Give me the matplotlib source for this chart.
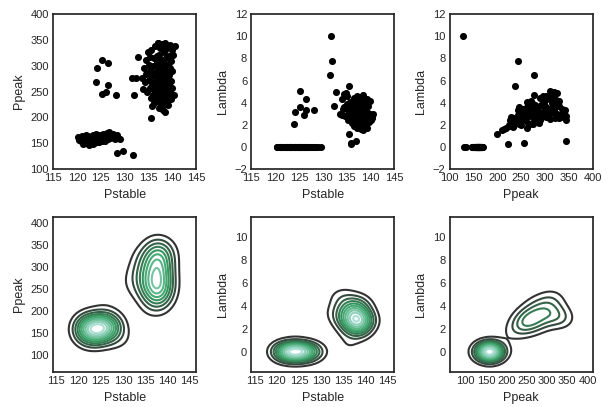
import numpy as np
import matplotlib
matplotlib.use("Agg")
from matplotlib import pyplot as plt
from matplotlib.colors import LinearSegmentedColormap
from matplotlib.ticker import MultipleLocator

plt.rcParams['font.family'] = ['Liberation Sans', 'DejaVu Sans']
plt.rcParams['axes.edgecolor'] = '#262626'
plt.rcParams['axes.linewidth'] = 1.25
plt.rcParams['xtick.color'] = '#262626'
plt.rcParams['ytick.color'] = '#262626'
plt.rcParams['axes.labelcolor'] = '#262626'

# lower cluster (Lambda = 0)
low_pstable = [120.3, 120.6, 120.9, 121.0, 121.2, 121.4, 121.5, 121.7, 121.9, 122.0,
               122.2, 122.3, 122.5, 122.6, 122.8, 122.9, 123.0, 123.2, 123.3, 123.5,
               123.6, 123.8, 123.9, 124.0, 124.1, 124.3, 124.4, 124.6, 124.7, 124.9,
               125.0, 125.1, 125.3, 125.4, 125.6, 125.7, 125.9, 126.0, 126.2, 126.3,
               126.5, 126.6, 126.8, 126.9, 127.1, 127.3, 127.5, 127.7, 128.0, 128.3,
               128.6, 129.0, 121.1, 122.1, 123.1, 124.2, 125.2, 126.1, 122.4, 123.4,
               124.8, 125.8, 128.3, 129.7,
               120.4, 121.6, 122.4, 123.0, 123.7, 124.2, 124.9, 125.5, 126.2, 127.0,
               128.1]
low_ppeak = [162, 158, 155, 164, 148, 160, 152, 157, 166, 150,
             161, 155, 158, 147, 163, 152, 159, 156, 166, 150,
             161, 154, 158, 168, 152, 163, 157, 160, 153, 166,
             158, 162, 155, 168, 160, 164, 157, 166, 161, 169,
             163, 158, 171, 165, 167, 162, 168, 160, 158, 166,
             160, 158, 157, 153, 162, 155, 159, 163, 165, 149,
             161, 154, 131, 135,
             157, 163, 152, 154, 160, 161, 156, 157, 165, 161,
             162]
low_lambda = [0.0] * len(low_pstable)

# points between the clusters
mid_pstable = [124.2, 125.3, 126.4, 124.0, 126.5, 125.3, 126.1, 128.2,
               131.8, 131.9, 131.5, 132.3, 132.8,
               135.5, 135.8, 135.9, 137.0]
mid_ppeak = [296, 311, 305, 269, 262, 245, 249, 243,
             128, 243, 277, 277, 318,
             199, 222, 255, 345]
mid_lambda = [3.2, 5.1, 4.3, 2.1, 3.3, 3.6, 2.9, 3.3,
              10.0, 7.8, 6.5, 3.7, 5.0,
              1.2, 0.3, 0.4, 0.5]

# upper cluster
up_pstable = [133.6, 133.9, 134.1, 134.2, 134.4, 134.5, 134.7, 134.8, 135.0, 135.1,
              135.2, 135.3, 135.4, 135.5, 135.6, 135.7, 135.8,
              136.0, 136.0, 136.1, 136.2, 136.3, 136.4, 136.5, 136.5, 136.6, 136.7,
              136.8, 136.9, 137.0, 137.0, 137.1, 137.2, 137.2, 137.3, 137.4, 137.4,
              137.5, 137.6, 137.6, 137.7, 137.8, 137.8,
              138.0, 138.0, 138.1, 138.1, 138.2, 138.3, 138.3, 138.4, 138.5, 138.5,
              138.6, 138.6, 138.7, 138.8, 138.8, 138.9, 139.0, 139.0, 139.1, 139.2,
              139.2, 139.3, 139.4, 139.4, 139.5,
              139.6, 139.7, 139.8, 139.9, 140.0, 140.0, 140.2, 140.3, 140.5,
              137.3, 137.9, 138.2, 138.6, 137.1, 138.9, 137.5, 138.4, 137.7, 138.0,
              136.8, 139.1, 137.4, 138.7, 136.9, 138.3, 137.9, 139.3, 136.7, 138.5]
up_ppeak = [276, 255, 296, 268, 312, 285, 250, 326, 302, 272,
            258, 318, 290, 238, 330, 262, 280,
            244, 300, 228, 315, 268, 338, 254, 289, 232, 308,
            276, 344, 240, 262, 296, 322, 218, 284, 250, 334,
            270, 305, 226, 290, 342, 258,
            214, 312, 246, 280, 326, 236, 298, 266, 344, 210,
            254, 316, 288, 232, 336, 272, 302, 244, 224, 320,
            262, 282, 340, 250, 296,
            236, 310, 270, 330, 258, 290, 322, 244, 338,
            310, 300, 260, 240, 276, 318, 236, 330, 248, 284,
            320, 274, 292, 302, 264, 226, 338, 256, 246, 276]
up_lambda = [3.0, 2.9, 4.3, 3.4, 4.8, 3.6, 2.8, 4.9, 4.6, 3.9,
             2.4, 3.3, 3.1, 5.5, 2.6, 4.1, 3.5,
             2.2, 3.7, 2.7, 4.0, 2.9, 3.2, 3.4, 4.4, 1.9, 3.0,
             2.5, 2.8, 2.3, 3.6, 4.6, 3.9, 1.7, 3.1, 2.0, 2.7,
             4.2, 3.5, 2.4, 2.6, 3.3, 3.0,
             1.6, 4.5, 2.1, 3.8, 3.0, 2.5, 4.1, 2.8, 2.4, 1.5,
             3.3, 3.6, 2.2, 1.8, 3.4, 4.0, 2.7, 2.9, 2.0, 4.3,
             1.7, 3.2, 2.9, 2.6, 3.7,
             2.3, 2.5, 3.0, 4.2, 2.8, 2.4, 2.6, 2.7, 3.0,
             3.4, 2.9, 2.7, 2.2, 2.8, 3.1, 2.6, 3.7, 2.3, 3.3,
             3.6, 2.1, 3.8, 3.5, 2.2, 1.9, 2.8, 3.0, 2.9, 4.7]

pstable = np.array(low_pstable + mid_pstable + up_pstable)
ppeak = np.array(low_ppeak + mid_ppeak + up_ppeak, dtype=float)
lam = np.array(low_lambda + mid_lambda + up_lambda)

# kernel widths for each variable
bandwidth = {'Pstable': 2.0, 'Ppeak': 22.5, 'Lambda': 0.59}


def kde_grid(x, y, bx, by, gridsize=100, cut=3):
    xs = np.linspace(x.min() - cut * bx, x.max() + cut * bx, gridsize)
    ys = np.linspace(y.min() - cut * by, y.max() + cut * by, gridsize)
    xx, yy = np.meshgrid(xs, ys)
    kx = np.exp(-0.5 * ((xx[..., None] - x) / bx) ** 2)
    ky = np.exp(-0.5 * ((yy[..., None] - y) / by) ** 2)
    z = (kx * ky).sum(-1) / (len(x) * 2 * np.pi * bx * by)
    return xx, yy, z


pal = ['#333333', plt.cm.BuGn_r(1 / 3.), plt.cm.BuGn_r(2 / 3.)]
cmap = LinearSegmentedColormap.from_list('BuGn_d', pal)

pairs = [(pstable, ppeak, 'Pstable', 'Ppeak'),
         (pstable, lam, 'Pstable', 'Lambda'),
         (ppeak, lam, 'Ppeak', 'Lambda')]
top_lims = [((115, 145), (100, 400)), ((115, 145), (-2, 12)), ((100, 400), (-2, 12))]
steps = {'Pstable': 5, 'Ppeak': 50, 'Lambda': 2}

fig, axes = plt.subplots(2, 3, figsize=(6.11, 4.07), dpi=100)
fig.subplots_adjust(left=0.087, right=0.97, top=0.965, bottom=0.086,
                    wspace=0.385, hspace=0.31)

for i, (x, y, xl, yl) in enumerate(pairs):
    ax = axes[0, i]
    ax.scatter(x, y, s=26, c='black', linewidths=0)
    ax.set_xlim(top_lims[i][0])
    ax.set_ylim(top_lims[i][1])

    ax2 = axes[1, i]
    xx, yy, z = kde_grid(x, y, bandwidth[xl], bandwidth[yl])
    levels = z.max() * np.arange(1, 11) / 11.
    ax2.contour(xx, yy, z, levels, cmap=cmap, linewidths=1.5)

    for a in (ax, ax2):
        a.set_xlabel(xl, fontsize=9)
        a.set_ylabel(yl, fontsize=9)
        a.xaxis.set_major_locator(MultipleLocator(steps[xl]))
        a.yaxis.set_major_locator(MultipleLocator(steps[yl]))

for ax in axes.flat:
    ax.tick_params(length=0, labelsize=8, pad=3)

fig.savefig('out.png', dpi=100)
